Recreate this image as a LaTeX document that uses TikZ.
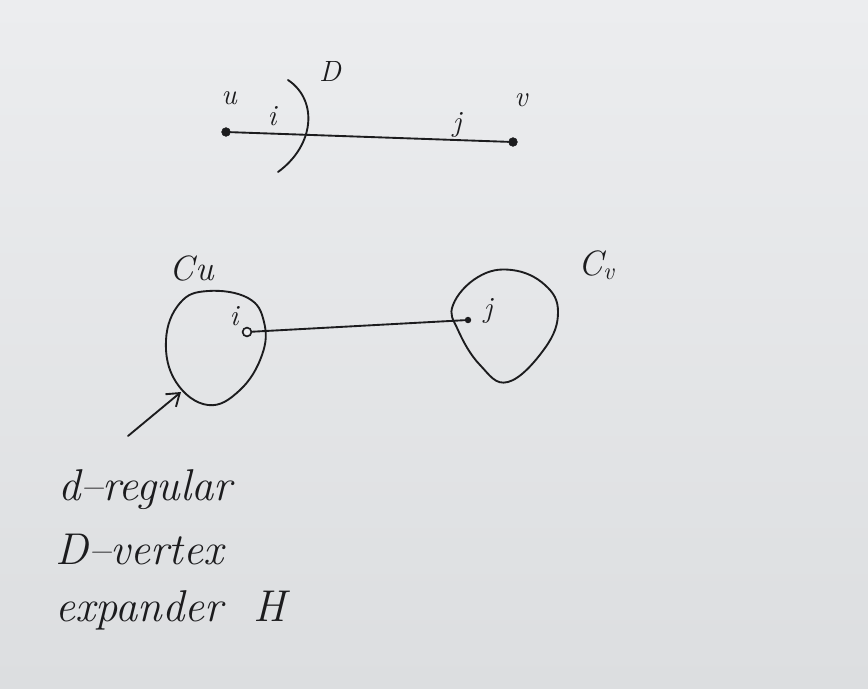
\documentclass[tikz,border=0pt]{standalone}
\usetikzlibrary{arrows.meta}
\definecolor{paperT}{RGB}{236,237,239}
\definecolor{paperB}{RGB}{220,222,224}
\definecolor{ink}{RGB}{28,28,30}
\begin{document}
\begin{tikzpicture}[x=0.03cm,y=-0.03cm,
  pen/.style={draw=ink,line width=1.6pt,line cap=round,line join=round},
  hand/.style={text=ink,font=\itshape\fontsize{38}{44}\selectfont,inner sep=0pt,anchor=west},
  lab/.style={text=ink,font=\itshape\fontsize{25}{30}\selectfont,inner sep=0pt},
  vdot/.style={circle,fill=ink,draw=ink,minimum size=7.5pt,inner sep=0pt},
  hdot/.style={circle,fill=paperT,draw=ink,line width=1.4pt,minimum size=7.5pt,inner sep=0pt},
  sdot/.style={circle,fill=ink,minimum size=5.5pt,inner sep=0pt}]
\shade[top color=paperT,bottom color=paperB] (0,0) rectangle (868,688);
\useasboundingbox (0,0) rectangle (868,688);

% top edge u--v
\node[vdot] (u) at (226,132) {};
\node[vdot] (v) at (513,142) {};
\draw[pen] (u) -- (v);
\node[lab] (lu) at (229,98) {u};
\node[lab] (lv) at (521,100) {v};
\node[lab] (li) at (272,116) {i};
\node[lab] (lj) at (457,125) {j};
\node[lab] (lD) at (330,71) {D};
\draw[pen] (288,80) .. controls (318,100) and (315,145) .. (278,172);

% bottom: clusters
\draw[pen] plot[smooth cycle,tension=0.7] coordinates
  {(208,291) (180,303) (166,340) (176,382) (208,405) (240,390) (262,355) (264,322) (248,298)};
\draw[pen] plot[smooth cycle,tension=0.7] coordinates
  {(478,277) (512,270) (545,285) (558,312) (545,348) (508,382) (480,365) (458,330) (453,305)};
\node[hdot] (ci) at (247,332) {};
\node[sdot] (cj) at (468,320) {};
\draw[pen] (ci) -- (cj);
\node[lab] (lci) at (234,316) {i};
\node[lab] (lcj) at (488,311) {j};
\node[lab,font=\itshape\fontsize{30}{34}\selectfont] (lCu) at (192,268) {C\kern1pt u};
\node[lab,font=\itshape\fontsize{30}{34}\selectfont] (lCv) at (598,265) {C$_{\mathit{v}}$};

% arrow to H
\coordinate (as) at (128,436);
\coordinate (ae) at (181,392);
\draw[pen,-{Straight Barb[length=10pt,width=14pt]}] (as) -- (ae);

\node[hand] (t1) at (58,490) {d--regular};
\node[hand] (t2) at (55,550) {D--vertex};
\node[hand] (t3) at (55,610) {expander \ H};
\end{tikzpicture}
\end{document}
